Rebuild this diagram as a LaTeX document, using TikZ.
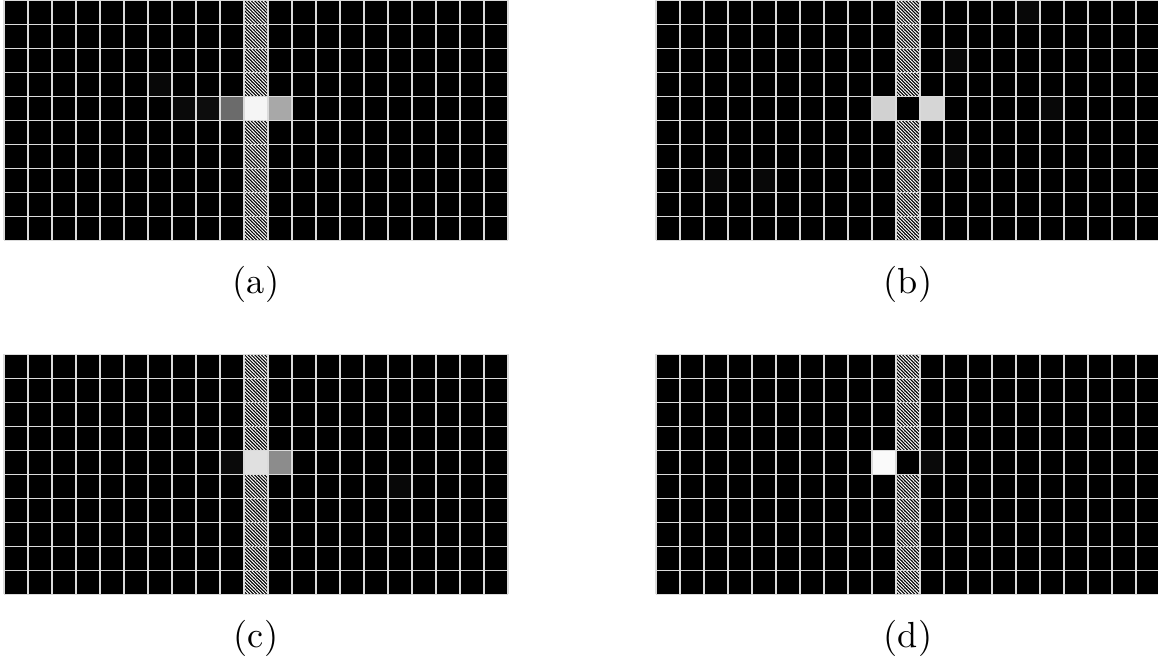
\documentclass[tikz,border=0pt]{standalone}
\usetikzlibrary{patterns.meta}
\begin{document}
\begin{tikzpicture}[
  x=0.5cm, y=0.5cm,
  cellline/.style={draw=black!14, line width=0.85pt},
  hatch/.style={pattern={Lines[angle=-45, distance=1.4pt, line width=0.6pt]}, pattern color=white},
  caption/.style={anchor=base, scale=2.15},
]
\useasboundingbox (0,0) rectangle (48.25,-27.625);
\clip (0,0) rectangle (48.25,-27.625);
\providecommand{\hmpanel}[5]{%
  \fill[black] (#1,#2) rectangle ++(21,-10);
  \fill[hatch] (#1+10,#2) rectangle ++(1,-10);
  \foreach \cx/\cy/\cs in {#4} {
    \fill[black!\cs] (#1+\cx,#2-\cy) rectangle ++(1,-1);
  }
  \foreach \i in {0,...,21} \draw[cellline] (#1+\i,#2) -- ++(0,-10);
  \foreach \j in {0,...,10} \draw[cellline] (#1,#2-\j) -- ++(21,0);
  \node[caption] (#3) at (#1+10.5,#2-12.2) {#5};
}
\hmpanel{0.1667}{-0.02}{lbla}{6/3/97,7/4/96,8/4/95,9/4/58,10/4/4,11/4/34}{(a)}
\hmpanel{27.333}{-0.02}{lblb}{15/0/97,12/2/97,16/4/97,12/6/97,2/7/97,4/7/97,9/4/18,10/4/100,11/4/16}{(b)}
\hmpanel{0.1667}{-14.77}{lblc}{9/4/96,16/5/97,10/4/12,11/4/45}{(c)}
\hmpanel{27.333}{-14.77}{lbld}{9/4/2,10/4/100,11/4/96}{(d)}
\end{tikzpicture}
\end{document}
